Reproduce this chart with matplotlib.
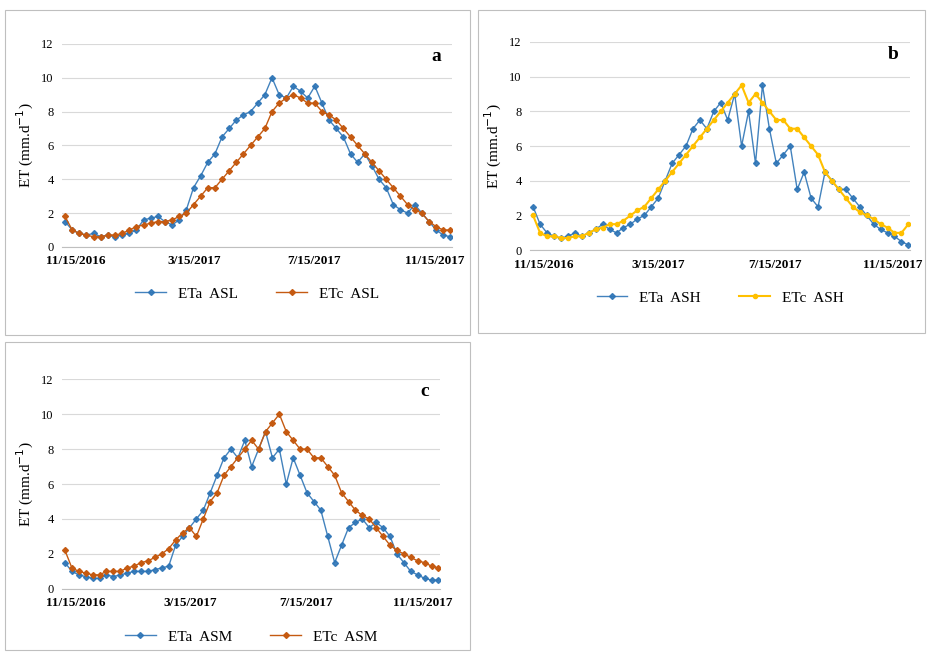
import numpy as np
import pandas as pd
import matplotlib
matplotlib.use('Agg')
import matplotlib.pyplot as plt
from matplotlib.patches import Rectangle

plt.rcParams['font.family'] = ['Liberation Serif', 'DejaVu Serif']

# weekly readings, Nov 2016 - Dec 2017
eta_asl = [1.5,1.0,0.8,0.7, 0.8,0.6,0.7,0.6, 0.7,0.8,1.0,1.6, 1.7,1.8,1.5,1.3,
           1.6,2.2,3.5,4.2, 5.0,5.5,6.5,7.0, 7.5,7.8,8.0,8.5,9.0, 10.0,9.0,8.8,9.5,
           9.2,8.8,9.5,8.5, 7.5,7.0,6.5,5.5,5.0, 5.5,4.8,4.0,3.5, 2.5,2.2,2.0,2.5,
           2.0,1.5,1.0,0.7, 0.6]
etc_asl = [1.8,1.0,0.8,0.7, 0.6,0.6,0.7,0.7, 0.8,1.0,1.2,1.3, 1.4,1.5,1.5,1.6,
           1.8,2.0,2.5,3.0, 3.5,3.5,4.0,4.5, 5.0,5.5,6.0,6.5,7.0, 8.0,8.5,8.8,9.0,
           8.8,8.5,8.5,8.0, 7.8,7.5,7.0,6.5,6.0, 5.5,5.0,4.5,4.0, 3.5,3.0,2.5,2.2,
           2.0,1.5,1.2,1.0, 1.0]
eta_ash = [2.5,1.5,1.0,0.8, 0.7,0.8,1.0,0.8, 1.0,1.2,1.5,1.2, 1.0,1.3,1.5,1.8,
           2.0,2.5,3.0,4.0, 5.0,5.5,6.0,7.0, 7.5,7.0,8.0,8.5,7.5, 9.0,6.0,8.0,5.0,
           9.5,7.0,5.0,5.5, 6.0,3.5,4.5,3.0,2.5, 4.5,4.0,3.5,3.5, 3.0,2.5,2.0,1.5,
           1.2,1.0,0.8,0.5, 0.3]
etc_ash = [2.0,1.0,0.8,0.8, 0.7,0.7,0.8,0.8, 1.0,1.2,1.3,1.5, 1.5,1.7,2.0,2.3,
           2.5,3.0,3.5,4.0, 4.5,5.0,5.5,6.0, 6.5,7.0,7.5,8.0,8.5, 9.0,9.5,8.5,9.0,
           8.5,8.0,7.5,7.5, 7.0,7.0,6.5,6.0,5.5, 4.5,4.0,3.5,3.0, 2.5,2.2,2.0,1.8,
           1.5,1.3,1.0,1.0, 1.5]
eta_asm = [1.5,1.0,0.8,0.7, 0.6,0.6,0.8,0.7, 0.8,0.9,1.0,1.0, 1.0,1.1,1.2,1.3,
           2.5,3.0,3.5,4.0, 4.5,5.5,6.5,7.5, 8.0,7.5,8.5,7.0,8.0, 9.0,7.5,8.0,6.0,
           7.5,6.5,5.5,5.0, 4.5,3.0,1.5,2.5,3.5, 3.8,4.0,3.5,3.8, 3.5,3.0,2.0,1.5,
           1.0,0.8,0.6,0.5, 0.5]
etc_asm = [2.2,1.2,1.0,0.9, 0.8,0.8,1.0,1.0, 1.0,1.2,1.3,1.5, 1.6,1.8,2.0,2.3,
           2.8,3.2,3.5,3.0, 4.0,5.0,5.5,6.5, 7.0,7.5,8.0,8.5,8.0, 9.0,9.5,10.0,9.0,
           8.5,8.0,8.0,7.5, 7.5,7.0,6.5,5.5,5.0, 4.5,4.2,4.0,3.5, 3.0,2.5,2.2,2.0,
           1.8,1.6,1.5,1.3, 1.2]

dates = pd.to_datetime(np.linspace(pd.Timestamp('2016-11-04').value,
                                   pd.Timestamp('2017-12-01').value, len(eta_asl)))
tick_dates = pd.to_datetime(['2016-11-15', '2017-03-15', '2017-07-15', '2017-11-15'])
tick_labels = ['11/15/2016', '3/15/2017', '7/15/2017', '11/15/2017']

blue = '#2e75b6'
orange = '#c55a11'
yellow = '#ffc000'

fig = plt.figure(figsize=(9.27, 6.55), dpi=100)
for (x0, y0, x1, y1) in [(5, 10, 470, 335), (478, 10, 925, 333), (5, 342, 470, 650)]:
    fig.patches.append(Rectangle((x0 / 927, 1 - y1 / 655), (x1 - x0) / 927, (y1 - y0) / 655,
                                 transform=fig.transFigure, fill=False, ec='#bfbfbf', lw=0.8))

panels = [
    ([0.067, 0.623, 0.421, 0.310], eta_asl, etc_asl, orange, 'ASL', 'a'),
    ([0.572, 0.618, 0.410, 0.318], eta_ash, etc_ash, yellow, 'ASH', 'b'),
    ([0.067, 0.101, 0.408, 0.320], eta_asm, etc_asm, orange, 'ASM', 'c'),
]
for rect, eta, etc, col2, name, letter in panels:
    ax = fig.add_axes(rect)
    ax.plot(dates, eta, color=blue, lw=1, marker='D', ms=3, alpha=0.9, label='ETa  ' + name)
    ax.plot(dates, etc, color=col2, lw=1.5 if col2 == yellow else 1,
            marker='o' if col2 == yellow else 'D', ms=3, label='ETc  ' + name)
    ax.set_ylim(0, 12)
    ax.set_yticks(range(0, 13, 2))
    ax.set_xlim(pd.Timestamp('2016-11-01'), pd.Timestamp('2017-12-03'))
    ax.set_xticks(tick_dates)
    ax.set_xticklabels(tick_labels, fontweight='bold', fontsize=9.5)
    ax.tick_params(axis='y', labelsize=9, length=0, pad=6)
    ax.tick_params(axis='x', length=0, pad=6)
    ax.grid(axis='y', color='#d9d9d9', lw=0.8)
    for s in ['top', 'right', 'left']:
        ax.spines[s].set_visible(False)
    ax.spines['bottom'].set_color('#bfbfbf')
    ax.set_ylabel('ET (mm.d$^{-1}$)', fontsize=11)
    ax.text(0.97, 0.98, letter, transform=ax.transAxes, fontsize=14, fontweight='bold',
            ha='right', va='top')
    ax.legend(loc='upper center', bbox_to_anchor=(0.5, -0.13), ncol=2, frameon=False,
              fontsize=11, columnspacing=2.5)

fig.savefig('out.png', dpi=100)
